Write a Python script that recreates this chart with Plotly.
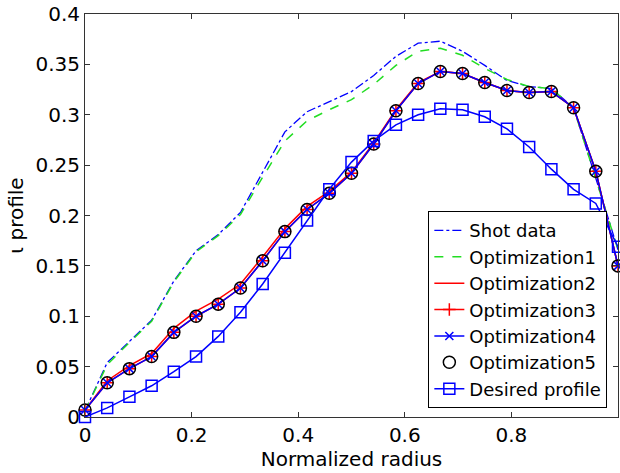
import plotly.graph_objects as go

# Normalized radius grid (25 points)
radius = [i / 24 for i in range(25)]

shot_data = [0.006, 0.054, 0.075, 0.096, 0.135, 0.165, 0.181, 0.203, 0.243, 0.283,
             0.303, 0.313, 0.323, 0.339, 0.358, 0.371, 0.373, 0.363, 0.349, 0.334,
             0.328, 0.326, 0.307, 0.237, 0.166]

optimization1 = [0.006, 0.052, 0.074, 0.095, 0.134, 0.164, 0.180, 0.201, 0.238, 0.274,
                 0.294, 0.305, 0.315, 0.330, 0.349, 0.363, 0.366, 0.359, 0.346, 0.335,
                 0.328, 0.326, 0.307, 0.237, 0.166]

optimization2 = [0.007, 0.036, 0.051, 0.063, 0.088, 0.105, 0.117, 0.132, 0.159, 0.187,
                 0.209, 0.224, 0.243, 0.272, 0.305, 0.332, 0.343, 0.341, 0.332, 0.324,
                 0.322, 0.323, 0.307, 0.244, 0.150]

optimization3 = [0.007, 0.034, 0.048, 0.060, 0.084, 0.100, 0.112, 0.128, 0.155, 0.184,
                 0.206, 0.222, 0.242, 0.271, 0.304, 0.331, 0.343, 0.341, 0.332, 0.324,
                 0.322, 0.323, 0.307, 0.244, 0.150]

optimization4 = [0.007, 0.034, 0.048, 0.060, 0.084, 0.100, 0.112, 0.128, 0.155, 0.184,
                 0.206, 0.222, 0.242, 0.271, 0.304, 0.331, 0.343, 0.341, 0.332, 0.324,
                 0.322, 0.323, 0.307, 0.244, 0.150]

optimization5 = [0.007, 0.034, 0.048, 0.060, 0.084, 0.100, 0.112, 0.128, 0.155, 0.184,
                 0.206, 0.222, 0.242, 0.271, 0.304, 0.331, 0.343, 0.341, 0.332, 0.324,
                 0.322, 0.323, 0.307, 0.244, 0.150]

desired_profile = [0.000, 0.009, 0.020, 0.031, 0.045, 0.060, 0.080, 0.104, 0.132, 0.163,
                   0.195, 0.226, 0.253, 0.274, 0.290, 0.300, 0.306, 0.305, 0.298, 0.286,
                   0.268, 0.246, 0.226, 0.212, 0.169]

BLUE = "#0000FF"
RED = "#FF0000"
GREEN = "#22DD22"
FONT = "DejaVu Sans, Arial, sans-serif"
FS = 20
LFS = 18

fig = go.Figure()
fig.add_trace(go.Scatter(x=radius, y=shot_data, mode="lines", name="Shot data",
                         line=dict(color=BLUE, width=1.3, dash="dashdot"), cliponaxis=False))
fig.add_trace(go.Scatter(x=radius, y=optimization1, mode="lines", name="Optimization1",
                         line=dict(color=GREEN, width=1.5, dash="dash"), cliponaxis=False))
fig.add_trace(go.Scatter(x=radius, y=optimization2, mode="lines", name="Optimization2",
                         line=dict(color=RED, width=1.5), cliponaxis=False))
fig.add_trace(go.Scatter(x=radius, y=optimization3, mode="lines+markers", name="Optimization3",
                         line=dict(color=RED, width=1.5),
                         marker=dict(symbol="cross-thin", size=9, color=RED,
                                     line=dict(color=RED, width=1.5)), cliponaxis=False))
fig.add_trace(go.Scatter(x=radius, y=optimization4, mode="lines+markers", name="Optimization4",
                         line=dict(color=BLUE, width=1.5),
                         marker=dict(symbol="x-thin", size=8, color=BLUE,
                                     line=dict(color=BLUE, width=1.5)), cliponaxis=False))
fig.add_trace(go.Scatter(x=radius, y=optimization5, mode="markers", name="Optimization5",
                         marker=dict(symbol="circle-open", size=12, color="black",
                                     line=dict(color="black", width=1.5)), cliponaxis=False))
fig.add_trace(go.Scatter(x=radius, y=desired_profile, mode="lines+markers", name="Desired profile",
                         line=dict(color=BLUE, width=1.5),
                         marker=dict(symbol="square-open", size=11, color=BLUE,
                                     line=dict(color=BLUE, width=1.5)), cliponaxis=False))

axis_common = dict(showgrid=False, zeroline=False, ticks="inside", ticklen=5,
                   tickcolor="#333333", showline=True, linecolor="#333333", linewidth=1,
                   mirror="ticks", tickfont=dict(size=FS, color="black", family=FONT))

fig.update_layout(
    width=620, height=473,
    margin=dict(l=85, r=2, t=14, b=56),
    paper_bgcolor="white", plot_bgcolor="white",
    font=dict(family=FONT, size=FS, color="black"),
    showlegend=True,
    legend=dict(x=0.98, y=0.022, xanchor="right", yanchor="bottom",
                bgcolor="white", bordercolor="black", borderwidth=1,
                font=dict(size=LFS, family=FONT, color="black"),
                tracegroupgap=0, itemwidth=30),
    xaxis=dict(range=[0, 1], tickvals=[0, 0.2, 0.4, 0.6, 0.8, 1],
               ticktext=["0", "0.2", "0.4", "0.6", "0.8", "1"],
               title=dict(text="Normalized radius", font=dict(size=FS, family=FONT), standoff=2),
               **axis_common),
    yaxis=dict(range=[0, 0.4], tickvals=[0, 0.05, 0.1, 0.15, 0.2, 0.25, 0.3, 0.35, 0.4],
               ticktext=["0", "0.05", "0.1", "0.15", "0.2", "0.25", "0.3", "0.35", "0.4"],
               title=dict(text="ι profile", font=dict(size=FS, family=FONT), standoff=6),
               **axis_common),
)

fig.write_html("out.html")
